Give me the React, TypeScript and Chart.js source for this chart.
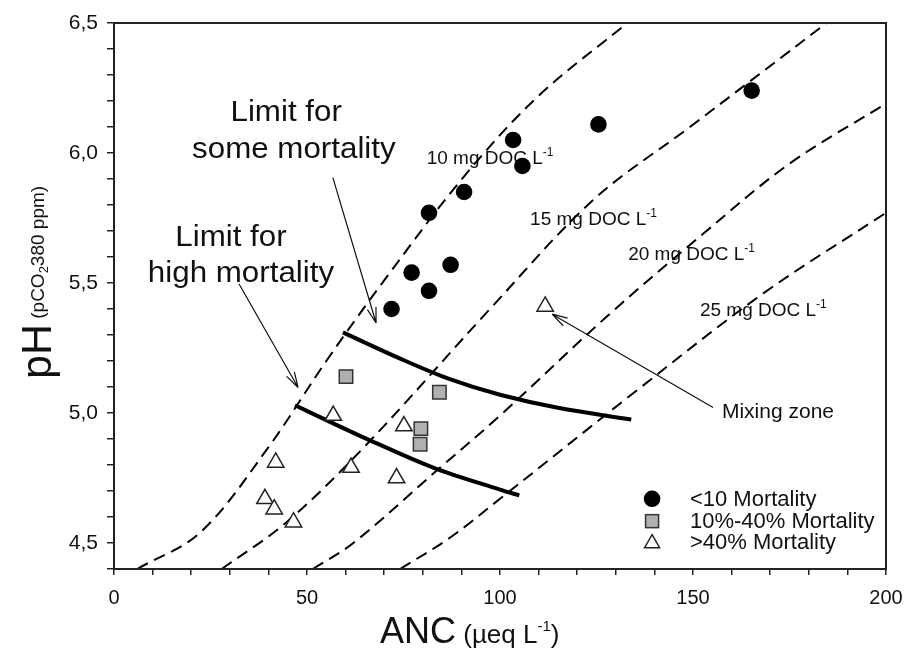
import React, { useEffect, useRef } from "react";
import { Chart, registerables } from "chart.js";

Chart.register(...registerables);

// ---- Data (ANC in µeq/L, pH) ----
const lowMortANC = [71.9, 77.1, 81.6, 87.2, 81.6, 90.7, 103.4, 105.8, 125.5, 165.2];
const lowMortPH = [5.4, 5.54, 5.47, 5.57, 5.77, 5.85, 6.05, 5.95, 6.11, 6.24];

const midMortANC = [60.1, 84.3, 79.5, 79.3];
const midMortPH = [5.14, 5.08, 4.94, 4.88];

const highMortANC = [56.8, 75.1, 41.9, 61.4, 73.2, 39.1, 41.5, 46.5, 111.7];
const highMortPH = [4.99, 4.95, 4.81, 4.79, 4.75, 4.67, 4.63, 4.58, 5.41];

const doc10ANC = [6, 22.3, 39.6, 55, 70, 90.7, 110, 133];
const doc10PH = [4.4, 4.54, 4.86, 5.2, 5.51, 5.91, 6.22, 6.5];

const doc15ANC = [27.9, 44.7, 65.5, 97.4, 124.2, 149.2, 184.6];
const doc15PH = [4.4, 4.58, 4.88, 5.4, 5.82, 6.1, 6.5];

const doc20ANC = [51.5, 62, 84.5, 100, 127.6, 152.7, 175.1, 200];
const doc20PH = [4.4, 4.5, 4.79, 4.99, 5.37, 5.69, 5.96, 6.19];

const doc25ANC = [74.1, 87, 100, 134, 168.2, 200];
const doc25PH = [4.4, 4.52, 4.67, 5.07, 5.46, 5.77];

const someLimitANC = [59.3, 74, 87, 100, 115, 134];
const someLimitPH = [5.31, 5.21, 5.13, 5.07, 5.02, 4.975];

const highLimitANC = [46.9, 56.8, 66.3, 82.7, 100, 105];
const highLimitPH = [5.03, 4.96, 4.895, 4.79, 4.705, 4.683];

const xTickLabels = ["0", "50", "100", "150", "200"];
const yTickLabels = ["4,5", "5,0", "5,5", "6,0", "6,5"];

const legendLabels = ["<10 Mortality", "10%-40% Mortality", ">40% Mortality"];
const docLabels = ["10 mg DOC L", "15 mg DOC L", "20 mg DOC L", "25 mg DOC L"];

const FONT = '"Liberation Sans", Arial, Helvetica, sans-serif';

const pts = (xs: number[], ys: number[]) => xs.map((x, i) => ({ x, y: ys[i] }));

type Part = { t: string; size: number; dy?: number };

function drawRich(ctx: CanvasRenderingContext2D, parts: Part[], x: number, y: number, sx = 1) {
  ctx.save();
  ctx.translate(x, y);
  ctx.scale(sx, 1);
  ctx.textAlign = "left";
  ctx.textBaseline = "alphabetic";
  let cx = 0;
  for (const p of parts) {
    ctx.font = `${p.size}px ${FONT}`;
    ctx.fillText(p.t, cx, p.dy || 0);
    cx += ctx.measureText(p.t).width;
  }
  ctx.restore();
}

function drawText(ctx: CanvasRenderingContext2D, s: string, x: number, y: number, size: number, align: CanvasTextAlign = "center", sx = 1) {
  ctx.save();
  ctx.translate(x, y);
  ctx.scale(sx, 1);
  ctx.font = `${size}px ${FONT}`;
  ctx.textAlign = align;
  ctx.textBaseline = "middle";
  ctx.fillText(s, 0, 0);
  ctx.restore();
}

function arrow(ctx: CanvasRenderingContext2D, x1: number, y1: number, x2: number, y2: number) {
  ctx.save();
  ctx.strokeStyle = "#111";
  ctx.lineWidth = 1.2;
  ctx.beginPath();
  ctx.moveTo(x1, y1);
  ctx.lineTo(x2, y2);
  const a = Math.atan2(y2 - y1, x2 - x1);
  const L = 16;
  const w = 0.28;
  ctx.moveTo(x2, y2);
  ctx.lineTo(x2 - L * Math.cos(a - w), y2 - L * Math.sin(a - w));
  ctx.moveTo(x2, y2);
  ctx.lineTo(x2 - L * Math.cos(a + w), y2 - L * Math.sin(a + w));
  ctx.stroke();
  ctx.restore();
}

const annotPlugin = {
  id: "annot",
  beforeDatasetsDraw(chart: any) {
    const ctx: CanvasRenderingContext2D = chart.ctx;
    const xs = chart.scales.x;
    const ys = chart.scales.y;
    const X = (v: number) => xs.getPixelForValue(v);
    const Y = (v: number) => ys.getPixelForValue(v);
    ctx.save();
    ctx.fillStyle = "#111";
    drawText(ctx, "Limit for", X(44.6), Y(6.152), 29, "center", 1.08);
    drawText(ctx, "some mortality", X(46.6), Y(6.01), 29, "center", 1.08);
    drawText(ctx, "Limit for", X(30.3), Y(5.674), 29, "center", 1.08);
    drawText(ctx, "high mortality", X(32.9), Y(5.535), 29, "center", 1.08);
    arrow(ctx, X(56.7), Y(5.905), X(67.9), Y(5.346));
    arrow(ctx, X(32.4), Y(5.496), X(47.7), Y(5.098));
    arrow(ctx, X(155.2), Y(5.021), X(113.5), Y(5.38));
    drawText(ctx, "Mixing zone", X(157.5), Y(5.002), 21, "left");
    const docPos = [
      [81.0, 5.958],
      [107.8, 5.724],
      [133.2, 5.589],
      [151.8, 5.373],
    ];
    docLabels.forEach((lab, i) => {
      drawRich(
        ctx,
        [
          { t: lab, size: 19 },
          { t: "-1", size: 12, dy: -8 },
        ],
        X(docPos[i][0]),
        Y(docPos[i][1])
      );
    });
    ctx.restore();
  },
  afterDraw(chart: any) {
    const ctx: CanvasRenderingContext2D = chart.ctx;
    const a = chart.chartArea;
    const xs = chart.scales.x;
    const ys = chart.scales.y;
    const X = (v: number) => xs.getPixelForValue(v);
    const Y = (v: number) => ys.getPixelForValue(v);
    ctx.save();
    ctx.strokeStyle = "#222";
    ctx.lineWidth = 2;
    ctx.strokeRect(a.left, a.top, a.right - a.left, a.bottom - a.top);

    // legend
    const lx = X(139.4);
    const tx = X(149.2);
    const lys = [4.67, 4.584, 4.503].map(Y);
    ctx.fillStyle = "#000";
    ctx.beginPath();
    ctx.arc(lx, lys[0], 8.3, 0, Math.PI * 2);
    ctx.fill();
    ctx.fillStyle = "#b0b0b0";
    ctx.strokeStyle = "#333";
    ctx.lineWidth = 1.5;
    ctx.fillRect(lx - 6.5, lys[1] - 6.5, 13, 13);
    ctx.strokeRect(lx - 6.5, lys[1] - 6.5, 13, 13);
    ctx.fillStyle = "#fff";
    ctx.strokeStyle = "#222";
    ctx.beginPath();
    ctx.moveTo(lx, lys[2] - 7.5);
    ctx.lineTo(lx + 7.5, lys[2] + 5.5);
    ctx.lineTo(lx - 7.5, lys[2] + 5.5);
    ctx.closePath();
    ctx.fill();
    ctx.stroke();
    ctx.fillStyle = "#111";
    legendLabels.forEach((l, i) => drawText(ctx, l, tx, lys[i] + 1, 22, "left"));

    // axis titles
    drawRich(
      ctx,
      [
        { t: "ANC", size: 36 },
        { t: " (µeq L", size: 26 },
        { t: "-1", size: 15, dy: -12 },
        { t: ")", size: 26 },
      ],
      380,
      643
    );
    ctx.save();
    ctx.translate(51, 379);
    ctx.rotate(-Math.PI / 2);
    drawRich(ctx, [
      { t: "pH", size: 43 },
      { t: " (pCO", size: 19, dy: -7 },
      { t: "2", size: 13, dy: -3 },
      { t: "380 ppm)", size: 19, dy: -7 },
    ], 0, 0);
    ctx.restore();
    ctx.restore();
  },
};

export default function App() {
  const ref = useRef<HTMLCanvasElement>(null);
  useEffect(() => {
    const canvas = ref.current;
    if (!canvas) return;
    const lineBase = {
      showLine: true,
      pointRadius: 0,
      pointHoverRadius: 0,
      tension: 0.35,
      fill: false,
    };
    const chart = new Chart(canvas, {
      type: "scatter",
      data: {
        datasets: [
          {
            label: legendLabels[0],
            data: pts(lowMortANC, lowMortPH),
            pointStyle: "circle",
            pointRadius: 8.3,
            backgroundColor: "#000",
            borderColor: "#000",
            borderWidth: 0,
          },
          {
            label: legendLabels[1],
            data: pts(midMortANC, midMortPH),
            pointStyle: "rect",
            pointRadius: 9.5,
            backgroundColor: "#b0b0b0",
            borderColor: "#333",
            borderWidth: 1.5,
          },
          {
            label: legendLabels[2],
            data: pts(highMortANC, highMortPH),
            pointStyle: "triangle",
            pointRadius: 9.5,
            backgroundColor: "#fff",
            borderColor: "#222",
            borderWidth: 1.5,
          },
          { ...lineBase, label: "some", data: pts(someLimitANC, someLimitPH), borderColor: "#000", borderWidth: 4 },
          { ...lineBase, label: "high", data: pts(highLimitANC, highLimitPH), borderColor: "#000", borderWidth: 4 },
          { ...lineBase, label: "10", data: pts(doc10ANC, doc10PH), borderColor: "#000", borderWidth: 2, borderDash: [12, 7] },
          { ...lineBase, label: "15", data: pts(doc15ANC, doc15PH), borderColor: "#000", borderWidth: 2, borderDash: [12, 7] },
          { ...lineBase, label: "20", data: pts(doc20ANC, doc20PH), borderColor: "#000", borderWidth: 2, borderDash: [12, 7] },
          { ...lineBase, label: "25", data: pts(doc25ANC, doc25PH), borderColor: "#000", borderWidth: 2, borderDash: [12, 7] },
        ] as any,
      },
      options: {
        responsive: false,
        animation: false,
        events: [],
        layout: { padding: { top: 23, right: 20, left: 0, bottom: 0 } },
        plugins: { legend: { display: false }, tooltip: { enabled: false } },
        scales: {
          x: {
            type: "linear",
            min: 0,
            max: 200,
            ticks: {
              stepSize: 10,
              autoSkip: false,
              maxRotation: 0,
              padding: 11,
              color: "#111",
              font: { size: 20, family: FONT },
              callback: (v: any) => {
                const r = Math.round(v);
                return Math.abs(v - r) < 1e-6 && r % 50 === 0 ? xTickLabels[r / 50] : "";
              },
            },
            grid: { drawOnChartArea: false, drawTicks: true, tickLength: 6, color: "#222", lineWidth: 1.5 },
            border: { display: false },
            afterFit: (s: any) => {
              s.height = 79;
              s.paddingLeft = 0;
              s.paddingRight = 0;
            },
          },
          y: {
            type: "linear",
            min: 4.4,
            max: 6.5,
            ticks: {
              stepSize: 0.1,
              autoSkip: false,
              padding: 9,
              color: "#111",
              font: { size: 21, family: FONT },
              callback: (v: any) => {
                const t = Math.round(v * 10);
                return t % 5 === 0 ? yTickLabels[(t - 45) / 5] ?? "" : "";
              },
            },
            grid: { drawOnChartArea: false, drawTicks: true, tickLength: 7, color: "#222", lineWidth: 1.5 },
            border: { display: false },
            afterFit: (s: any) => {
              s.width = 114;
              s.paddingTop = 0;
              s.paddingBottom = 0;
            },
          },
        },
      },
      plugins: [annotPlugin],
    } as any);
    return () => chart.destroy();
  }, []);
  return (
    <div style={{ position: "fixed", left: 0, top: 0, width: 906, height: 648, background: "#fff" }}>
      <canvas ref={ref} width={906} height={648} style={{ display: "block" }} />
    </div>
  );
}
